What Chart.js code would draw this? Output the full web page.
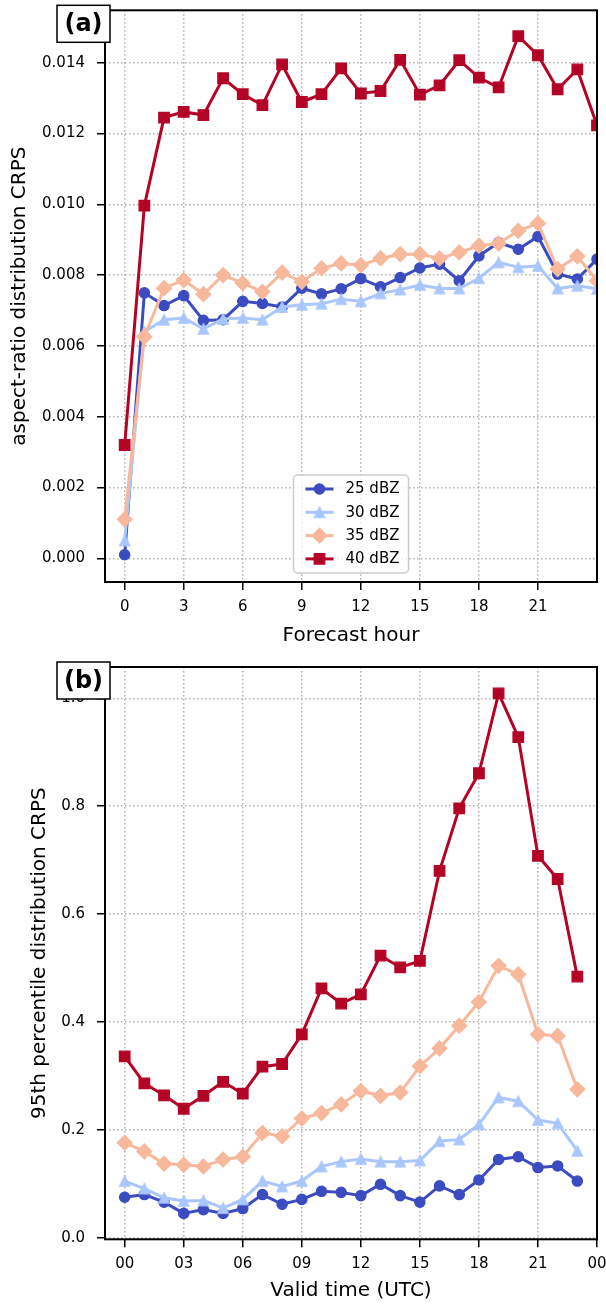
<!DOCTYPE html>
<html><head><meta charset="utf-8">
<script src="https://cdn.jsdelivr.net/npm/chart.js@4"></script>
<style>
html,body{margin:0;padding:0;background:#fff;}
body{width:606px;height:1304px;position:relative;overflow:hidden;}
.panel{position:absolute;left:0;width:606px;}
#pa{top:0;height:650px;}
#pb{top:655px;height:649px;}
</style></head><body>
<div class="panel" id="pa"><canvas id="ca"></canvas></div>
<div class="panel" id="pb"><canvas id="cb"></canvas></div>
<script>
// ---------------- data ----------------
const seriesLabels = ['25 dBZ', '30 dBZ', '35 dBZ', '40 dBZ'];

// (a) forecast hour
const hoursA = [0,1,2,3,4,5,6,7,8,9,10,11,12,13,14,15,16,17,18,19,20,21,22,23,24];
const aspect25 = [0.0001,0.0075,0.00714,0.00742,0.00672,0.00674,0.00726,0.0072,0.0071,0.00763,0.00747,0.00761,0.0079,0.00767,0.00793,0.0082,0.00831,0.00784,0.00854,0.00892,0.00873,0.00909,0.00803,0.00789,0.00845];
const aspect30 = [0.0005,0.0064,0.00674,0.00679,0.00648,0.00676,0.00679,0.00674,0.0071,0.00716,0.00719,0.00732,0.00726,0.00748,0.00759,0.00772,0.00762,0.00762,0.00791,0.00836,0.00822,0.00826,0.00762,0.0077,0.00761];
const aspect35 = [0.0011,0.00626,0.00763,0.00786,0.00746,0.008,0.00777,0.00753,0.00807,0.00781,0.00819,0.00833,0.00828,0.00847,0.00859,0.00859,0.00847,0.00864,0.00883,0.00889,0.00925,0.00946,0.00817,0.00853,0.00784];
const aspect40 = [0.0032,0.00996,0.01245,0.01261,0.01252,0.01356,0.01311,0.0128,0.01395,0.01289,0.01311,0.01384,0.01313,0.0132,0.01408,0.0131,0.01336,0.01407,0.01358,0.0133,0.01475,0.01421,0.01325,0.01381,0.01223];

// (b) valid time
const hoursB = [0,1,2,3,4,5,6,7,8,9,10,11,12,13,14,15,16,17,18,19,20,21,22,23];
const p95_25 = [0.075,0.080,0.066,0.045,0.052,0.045,0.054,0.080,0.062,0.071,0.086,0.084,0.078,0.099,0.078,0.066,0.096,0.080,0.107,0.145,0.150,0.130,0.133,0.105];
const p95_30 = [0.105,0.091,0.074,0.068,0.069,0.055,0.071,0.105,0.095,0.105,0.132,0.141,0.146,0.141,0.141,0.143,0.179,0.182,0.210,0.260,0.253,0.218,0.212,0.161];
const p95_35 = [0.176,0.160,0.137,0.135,0.132,0.145,0.150,0.194,0.188,0.221,0.231,0.247,0.272,0.263,0.269,0.318,0.351,0.393,0.437,0.504,0.488,0.377,0.374,0.275];
const p95_40 = [0.336,0.286,0.264,0.239,0.263,0.289,0.267,0.317,0.322,0.377,0.462,0.434,0.451,0.523,0.501,0.513,0.680,0.796,0.861,1.009,0.928,0.708,0.665,0.484];

// ticks
const xTicksA = [0,3,6,9,12,15,18,21];
const xTickLabelsA = ['0','3','6','9','12','15','18','21'];
const xTicksB = [0,3,6,9,12,15,18,21,24];
const xTickLabelsB = ['00','03','06','09','12','15','18','21','00'];
const yTicksA = [0,0.002,0.004,0.006,0.008,0.010,0.012,0.014];
const yTickLabelsA = ['0.000','0.002','0.004','0.006','0.008','0.010','0.012','0.014'];
const yTicksB = [0,0.2,0.4,0.6,0.8,1.0];
const yTickLabelsB = ['0.0','0.2','0.4','0.6','0.8','1.0'];

// ---------------- styles ----------------
const FONT = '"DejaVu Sans", Verdana, sans-serif';
const colors = ['#3b4cc0', '#aac7fd', '#f7b89c', '#b40426'];
const MS = 10.3;      // marker size (px)
const MLW = 1.3;      // marker edge width

function triangleMarker(color) {
  const size = 20;
  const c = document.createElement('canvas');
  c.width = size; c.height = size;
  const g = c.getContext('2d');
  const cx = size / 2, cy = size / 2, h = MS / 2;
  g.beginPath();
  g.moveTo(cx, cy - h); g.lineTo(cx + h, cy + h); g.lineTo(cx - h, cy + h); g.closePath();
  g.fillStyle = color; g.fill();
  g.lineWidth = MLW; g.strokeStyle = color; g.lineJoin = 'miter'; g.stroke();
  return c;
}
const pointStyles = ['circle', triangleMarker(colors[1]), 'rectRot', 'rect'];
const pointRadii = [MS / 2, MS / 2, MS * 0.72, MS * 0.72];

function makeDatasets(hours, series) {
  return series.map((vals, i) => ({
    label: seriesLabels[i],
    data: hours.map((h, k) => ({ x: h, y: vals[k] })),
    borderColor: colors[i],
    backgroundColor: colors[i],
    pointBackgroundColor: colors[i],
    pointBorderColor: colors[i],
    borderWidth: 3,
    pointStyle: pointStyles[i],
    pointRadius: pointRadii[i],
    pointHoverRadius: pointRadii[i],
    pointBorderWidth: MLW,
    tension: 0,
    clip: 0,
    order: 4 - i
  }));
}

const deco = {
  id: 'deco',
  afterDraw(chart, args, opts) {
    const ctx = chart.ctx, a = chart.chartArea;
    ctx.save();
    // full frame
    ctx.strokeStyle = '#000';
    ctx.lineWidth = 2;
    ctx.setLineDash([]);
    ctx.strokeRect(a.left, a.top, a.right - a.left, a.bottom - a.top);

    // legend
    if (opts.legend) {
      const w = 115, h = 98;
      const lx = (a.left + a.right) / 2 - w / 2;
      const ly = a.bottom - 9 - h;
      ctx.beginPath();
      if (ctx.roundRect) ctx.roundRect(lx, ly, w, h, 4); else ctx.rect(lx, ly, w, h);
      ctx.fillStyle = 'rgba(255,255,255,0.8)';
      ctx.fill();
      ctx.strokeStyle = '#cccccc';
      ctx.lineWidth = 1.5;
      ctx.stroke();
      chart.data.datasets.forEach((ds, i) => {
        const yy = ly + 14 + i * 23.3;
        ctx.strokeStyle = ds.borderColor;
        ctx.lineWidth = ds.borderWidth;
        ctx.beginPath();
        ctx.moveTo(lx + 12, yy); ctx.lineTo(lx + 40, yy);
        ctx.stroke();
        ctx.fillStyle = ds.pointBackgroundColor;
        ctx.strokeStyle = ds.pointBorderColor;
        ctx.lineWidth = ds.pointBorderWidth;
        Chart.helpers.drawPoint(ctx, {
          pointStyle: ds.pointStyle, radius: ds.pointRadius, rotation: 0, borderWidth: ds.pointBorderWidth
        }, lx + 26, yy);
        ctx.fillStyle = '#000';
        ctx.font = '15px ' + FONT;
        ctx.textAlign = 'left';
        ctx.textBaseline = 'middle';
        ctx.fillText(ds.label, lx + 52, yy + 0.5);
      });
    }

    // panel label
    if (opts.label) {
      const bx = a.left - 48, by = a.top - 5, bw = 53, bh = 37;
      ctx.fillStyle = '#fff';
      ctx.fillRect(bx, by, bw, bh);
      ctx.strokeStyle = '#000';
      ctx.lineWidth = 1.5;
      ctx.strokeRect(bx, by, bw, bh);
      ctx.fillStyle = '#000';
      ctx.font = 'bold 24px ' + FONT;
      ctx.textAlign = 'center';
      ctx.textBaseline = 'middle';
      ctx.fillText(opts.label, bx + bw / 2, by + bh / 2 + 1);
    }
    ctx.restore();
  }
};

function makeChart(id, cfg) {
  const gridOpts = {
    color: '#b0b0b0', lineWidth: 1.5, drawTicks: true, tickLength: 8,
    tickColor: '#000', tickWidth: 1.5, tickBorderDash: []
  };
  const borderOpts = { display: false, dash: [1.5, 2.5] };
  return new Chart(document.getElementById(id), {
    type: 'line',
    data: { datasets: makeDatasets(cfg.hours, cfg.series) },
    options: {
      responsive: true,
      maintainAspectRatio: false,
      animation: false,
      devicePixelRatio: 1,
      events: [],
      layout: { padding: { top: cfg.padTop, right: 9, left: 0, bottom: 0 } },
      plugins: {
        legend: { display: false },
        tooltip: { enabled: false },
        deco: { legend: cfg.legend, label: cfg.label }
      },
      scales: {
        x: {
          type: 'linear', position: 'bottom', min: -1, max: 24,
          afterBuildTicks: s => { s.ticks = cfg.xTicks.map(v => ({ value: v })); },
          afterFit: s => { s.height = cfg.xAxisH; s.paddingLeft = 0; s.paddingRight = 0; },
          ticks: {
            autoSkip: false, maxRotation: 0, minRotation: 0, padding: 8, color: '#000',
            font: { family: FONT, size: 15 },
            callback: (v, i) => cfg.xLabels[i]
          },
          grid: gridOpts,
          border: borderOpts,
          title: {
            display: true, text: cfg.xTitle, color: '#000',
            font: { family: FONT, size: 20, lineHeight: 1.2 },
            padding: { top: 0, bottom: cfg.xTitlePad }
          }
        },
        y: {
          type: 'linear', position: 'left', min: cfg.yMin, max: cfg.yMax,
          afterBuildTicks: s => { s.ticks = cfg.yTicks.map(v => ({ value: v })); },
          afterFit: s => { s.width = 105; s.paddingTop = 0; s.paddingBottom = 0; },
          ticks: {
            autoSkip: false, padding: 12, color: '#000',
            font: { family: FONT, size: 15 },
            callback: (v, i) => cfg.yLabels[i]
          },
          grid: gridOpts,
          border: borderOpts,
          title: {
            display: true, text: cfg.yTitle, color: '#000',
            font: { family: FONT, size: 20, lineHeight: 1.2 },
            padding: { top: cfg.yTitlePad, bottom: 0 }
          }
        }
      }
    },
    plugins: [deco]
  });
}

makeChart('ca', {
  hours: hoursA, series: [aspect25, aspect30, aspect35, aspect40],
  xTicks: xTicksA, xLabels: xTickLabelsA, yTicks: yTicksA, yLabels: yTickLabelsA,
  yMin: -0.00067, yMax: 0.01548,
  xTitle: 'Forecast hour', yTitle: 'aspect-ratio distribution CRPS',
  padTop: 10.3, xAxisH: 68, xTitlePad: 2, yTitlePad: 8,
  legend: true, label: '(a)'
});

makeChart('cb', {
  hours: hoursB, series: [p95_25, p95_30, p95_35, p95_40],
  xTicks: xTicksB, xLabels: xTickLabelsB, yTicks: yTicksB, yLabels: yTickLabelsB,
  yMin: -0.003, yMax: 1.058,
  xTitle: 'Valid time (UTC)', yTitle: '95th percentile distribution CRPS',
  padTop: 12, xAxisH: 64.7, xTitlePad: 1, yTitlePad: 28,
  legend: false, label: '(b)'
});
</script>
</body></html>
